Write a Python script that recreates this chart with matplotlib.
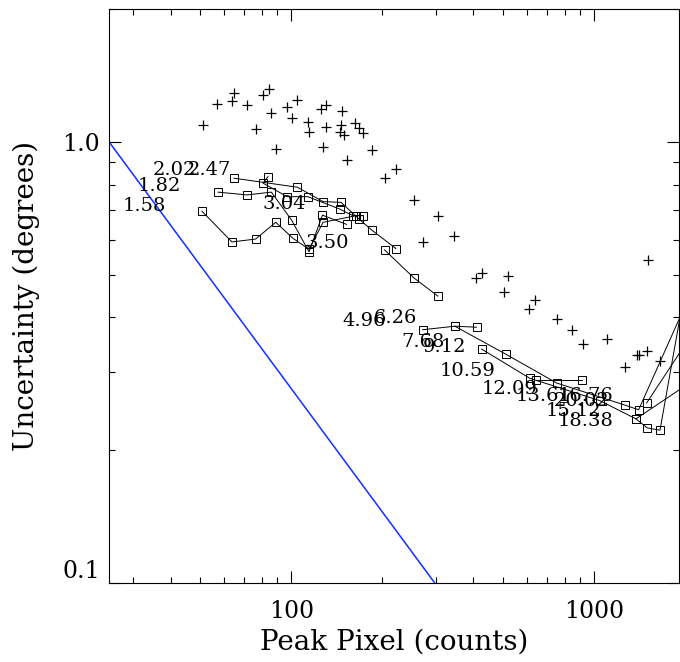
import numpy as np
import matplotlib
matplotlib.use("Agg")
import matplotlib.pyplot as plt
from matplotlib.ticker import FixedLocator, NullFormatter

# crosses: x (counts), y (degrees)
cross_x = [51.1, 57.0, 63.6, 64.7, 71.4, 76.3, 80.7, 84.3, 86.0, 88.9,
           97.1, 100.9, 104.8, 113.6, 114.5, 125.8, 129.8, 127.4, 130.0, 146.9,
           146.1, 145.4, 149.5, 162.5, 167.5, 172.8, 152.6, 185.5, 203.8, 221.6,
           254.7, 305.7, 272.8, 344.5, 406.3, 426.4, 518.4, 502.9, 638.3, 611.1,
           753.0, 845.9, 917.6, 1101.9, 1505, 1266.5, 1384, 1408, 1500, 1653]
cross_y = [1.093, 1.216, 1.235, 1.292, 1.214, 1.070, 1.274, 1.315, 1.162, 0.964,
           1.201, 1.132, 1.241, 1.109, 1.055, 1.184, 1.209, 0.971, 1.083, 1.174,
           1.089, 1.050, 1.037, 1.103, 1.074, 1.048, 0.910, 0.957, 0.830, 0.868,
           0.740, 0.678, 0.592, 0.612, 0.490, 0.503, 0.497, 0.457, 0.438, 0.417,
           0.396, 0.374, 0.349, 0.358, 0.540, 0.309, 0.329, 0.329, 0.335, 0.318]

# square curves
curves_x = [
    [64.7, 104.8, 127.4, 146.1, 167.5, 184.5, 221.6],
    [83.8, 80.7, 96.9, 113.4, 144.6, 160.1, 172.0],
    [57.3, 71.4, 86.0, 100.2, 114.5, 126.8, 152.3],
    [50.7, 63.7, 76.3, 88.9, 101.4, 114.5, 127.4, 163.4],
    [203.3, 254.7, 305.0],
    [271.5, 347.1, 409.4],
    [347.1, 511.8, 753.0, 1266.5, 1405, 2101],
    [425.5, 614.3, 1046.7, 1376.5, 1500, 1653, 2101],
    [643.1, 914.9],
    [1494, 2101],
    [1376.5, 2101],
]
curves_y = [
    [0.827, 0.789, 0.732, 0.729, 0.668, 0.631, 0.573],
    [0.834, 0.806, 0.751, 0.751, 0.704, 0.680, 0.680],
    [0.769, 0.758, 0.769, 0.665, 0.563, 0.682, 0.650],
    [0.696, 0.593, 0.602, 0.657, 0.604, 0.571, 0.657, 0.680],
    [0.569, 0.491, 0.447],
    [0.375, 0.382, 0.380],
    [0.382, 0.330, 0.284, 0.253, 0.247, 0.458],
    [0.339, 0.291, 0.259, 0.2355, 0.2247, 0.222, 0.562],
    [0.289, 0.289],
    [0.256, 0.365],
    [0.2355, 0.286],
]

labels = ["1.58", "1.82", "2.02", "2.47", "3.04", "3.50", "4.96", "6.26", "7.68",
          "9.12", "10.59", "12.09", "13.61", "16.76", "20.02", "15.12", "18.38"]
label_x = [32.8, 36.7, 41.2, 53.8, 94.5, 131.1, 173.7, 221.6, 272.1,
           321.7, 383.3, 527.6, 683.5, 941.0, 912.6, 859.0, 941.0]
label_y = [0.715, 0.794, 0.864, 0.864, 0.723, 0.589, 0.392, 0.398, 0.351,
           0.342, 0.302, 0.275, 0.266, 0.266, 0.258, 0.245, 0.2334]

ref_x = [25, 298]
ref_y = [1.0, 0.1]

plt.rcParams['font.family'] = 'DejaVu Serif'

fig = plt.figure(figsize=(6.8, 6.62), dpi=100)
ax = fig.add_axes([109 / 680, 79 / 662, 570 / 680, 574 / 662])

ax.plot(ref_x, ref_y, color='#1030ff', lw=1.1)
ax.plot(cross_x, cross_y, '+', color='black', ms=6.5, mew=0.9, ls='none')
for cx, cy in zip(curves_x, curves_y):
    ax.plot(cx, cy, '-s', color='black', lw=0.7, ms=6, mfc='none', mew=0.7)
for t, lx, ly in zip(labels, label_x, label_y):
    ax.text(lx, ly, t, fontsize=14, ha='center', va='center')

ax.set_xscale('log')
ax.set_yscale('log')
ax.set_xlim(25, 1910)
ax.set_ylim(0.1, 2.0)

ax.xaxis.set_major_locator(FixedLocator([100, 1000]))
ax.xaxis.set_minor_locator(FixedLocator([30, 40, 50, 60, 70, 80, 90,
                                         200, 300, 400, 500, 600, 700, 800, 900]))
ax.yaxis.set_major_locator(FixedLocator([0.1, 1.0]))
ax.yaxis.set_minor_locator(FixedLocator([0.2, 0.3, 0.4, 0.5, 0.6, 0.7, 0.8, 0.9, 2.0]))
ax.set_xticklabels(["100", "1000"])
ax.set_yticklabels(["0.1", "1.0"])
ax.xaxis.set_minor_formatter(NullFormatter())
ax.yaxis.set_minor_formatter(NullFormatter())

ax.tick_params(which='both', direction='in', top=True, right=True, labelsize=17, width=0.8)
ax.tick_params(which='major', length=8.5)
ax.tick_params(which='minor', length=4.3)
ax.tick_params(axis='x', which='major', pad=12)
ax.tick_params(axis='y', which='major', pad=6.5)
for s in ax.spines.values():
    s.set_linewidth(0.8)

# lowest y label sits a bit above its tick, as in the original
ax.get_yticklabels()[0].set_verticalalignment('bottom')

ax.set_xlabel("Peak Pixel (counts)", fontsize=20, labelpad=4.5)
ax.set_ylabel("Uncertainty (degrees)", fontsize=20, labelpad=16)

fig.savefig("out.png", dpi=100)
